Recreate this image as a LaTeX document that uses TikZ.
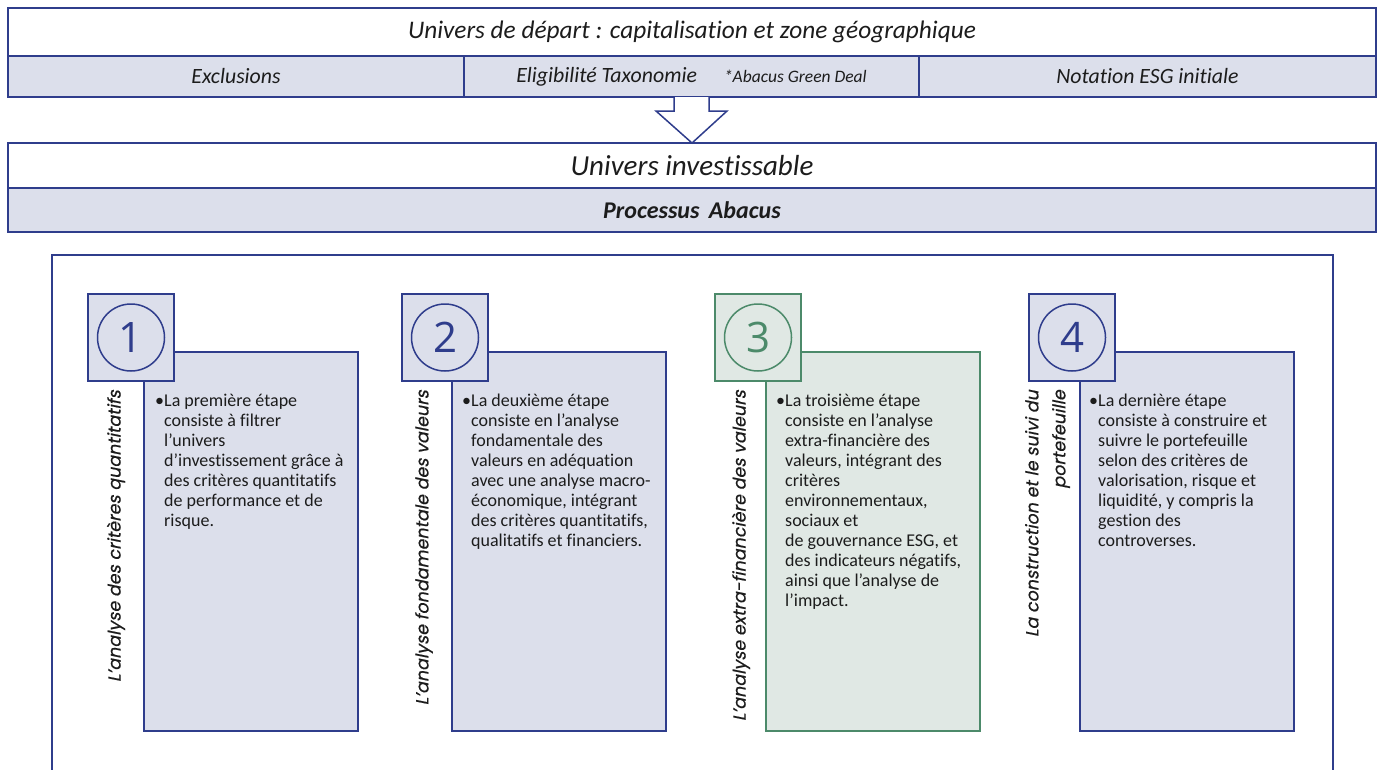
\documentclass[tikz,border=0pt]{standalone}
\usepackage{fontspec}
\setmainfont{Carlito}[Ligatures={TeX,NoCommon}]
\newfontfamily\gothic{Poppins}[FakeSlant=0.2, FakeBold=0.6, Ligatures=NoCommon]
\newfontfamily\numfont{Open Sans}
\definecolor{bl}{RGB}{47,61,140}
\definecolor{blfill}{RGB}{220,223,235}
\definecolor{gr}{RGB}{76,138,106}
\definecolor{grfill}{RGB}{224,232,228}
\definecolor{txt}{RGB}{28,28,28}
\tikzset{
  bx/.style={draw=bl, line width=1.5pt, inner sep=0pt, outer sep=0pt, anchor=north west, text=txt},
  gx/.style={draw=gr, line width=1.5pt, inner sep=0pt, outer sep=0pt, anchor=north west, text=txt},
  sq/.style={minimum width=86pt, minimum height=87pt},
  big/.style={minimum width=214pt, minimum height=379pt},
  num/.style={circle, line width=1.5pt, minimum size=67pt, inner sep=0pt, font=\numfont\fontsize{42}{42}\selectfont},
  rot/.style={rotate=90, anchor=east, inner sep=0pt, text=txt, font=\gothic\fontsize{17.5}{27}\selectfont},
  body/.style={anchor=north west, inner sep=0pt, align=left, text=txt, font=\fontsize{18}{20}\selectfont},
  bul/.style={anchor=base, inner sep=0pt, text=txt, font=\fontsize{18}{20}\selectfont},
  hdr/.style={font=\itshape\fontsize{21.8}{24}\selectfont},
}
\begin{document}
\begin{tikzpicture}[x=1pt,y=-1pt]
\useasboundingbox (0,0) rectangle (1380,769);
\clip (0,0) rectangle (1380,769);
\fill[white] (0,0) rectangle (1380,769);
% top block
\node[bx, minimum width=1368pt, minimum height=48pt, font=\itshape\fontsize{25.3}{28}\selectfont] (title) at (8,8) {Univers de départ : capitalisation et zone géographique};
\node[bx, fill=blfill, minimum width=456pt, minimum height=41pt, hdr] (excl) at (8,56) {Exclusions};
\node[bx, fill=blfill, minimum width=455pt, minimum height=41pt, hdr] (elig) at (464,56) {Eligibilité Taxonomie\hspace{27pt}{\fontsize{17.5}{20}\selectfont *Abacus Green Deal}};
\node[bx, fill=blfill, minimum width=457pt, minimum height=41pt, hdr] (esg) at (919,56) {Notation ESG initiale};
% second block
\node[bx, minimum width=1368pt, minimum height=45pt, font=\itshape\fontsize{29}{32}\selectfont] (inv) at (8,143) {Univers investissable};
\node[bx, fill=blfill, minimum width=1368pt, minimum height=44pt, font=\bfseries\itshape\fontsize{24}{28}\selectfont] (proc) at (8,188) {Processus\hspace{4pt} Abacus};
% block arrow
\draw[draw=bl, line width=1.5pt, fill=white, line join=miter]
  (674,97) -- (674,111) -- (656,111) -- (inv.north -| 692,0) -- (727,111) -- (709,111) -- (709,97);
% frame
\node[bx, minimum width=1281pt, minimum height=600pt] (frame) at (52,255) {};
% step 1
\node[bx, fill=blfill, big] (b1) at (144,352) {};
\node[bx, fill=blfill, sq] (s1) at (88,294) {};
\node[num, draw=bl, text=bl] (c1) at (s1.center) {1};
\node[rot] (r1) at (116,390) {L’analyse des critères quantitatifs};
\node[bul] (u1) at (159.5,406) {•};
\node[body] (t1) at (164,391) {\rule{0pt}{15pt}La première étape\\consiste à filtrer\\l’univers\\d’investissement grâce à\\des critères quantitatifs\\de performance et de\\risque.};
% step 2
\node[bx, fill=blfill, big] (b2) at (452,352) {};
\node[bx, fill=blfill, sq] (s2) at (402,294) {};
\node[num, draw=bl, text=bl] (c2) at (s2.center) {2};
\node[rot] (r2) at (424,390) {L’analyse fondamentale des valeurs};
\node[bul] (u2) at (466.5,406) {•};
\node[body] (t2) at (471,391) {\rule{0pt}{15pt}La deuxième étape\\consiste en l’analyse\\fondamentale des\\valeurs en adéquation\\avec une analyse macro-\\économique, intégrant\\des critères quantitatifs,\\qualitatifs et financiers.};
% step 3
\node[gx, fill=grfill, big] (b3) at (766,352) {};
\node[gx, fill=grfill, sq] (s3) at (715,294) {};
\node[num, draw=gr, text=gr] (c3) at (s3.center) {3};
\node[rot] (r3) at (741,390) {L’analyse extra-financière des valeurs};
\node[bul] (u3) at (780.5,406) {•};
\node[body] (t3) at (785,391) {\rule{0pt}{15pt}La troisième étape\\consiste en l’analyse\\extra-financière des\\valeurs, intégrant des\\critères\\environnementaux,\\sociaux et\\de gouvernance ESG, et\\des indicateurs négatifs,\\ainsi que l’analyse de\\l’impact.};
% step 4
\node[bx, fill=blfill, big] (b4) at (1080,352) {};
\node[bx, fill=blfill, sq] (s4) at (1029,294) {};
\node[num, draw=bl, text=bl] (c4) at (s4.center) {4};
\node[rot, align=right] (r4) at (1047.5,390) {La construction et le suivi du\\portefeuille};
\node[bul] (u4) at (1093.5,406) {•};
\node[body] (t4) at (1098,391) {\rule{0pt}{15pt}La dernière étape\\consiste à construire et\\suivre le portefeuille\\selon des critères de\\valorisation, risque et\\liquidité, y compris la\\gestion des\\controverses.};
\end{tikzpicture}
\end{document}
